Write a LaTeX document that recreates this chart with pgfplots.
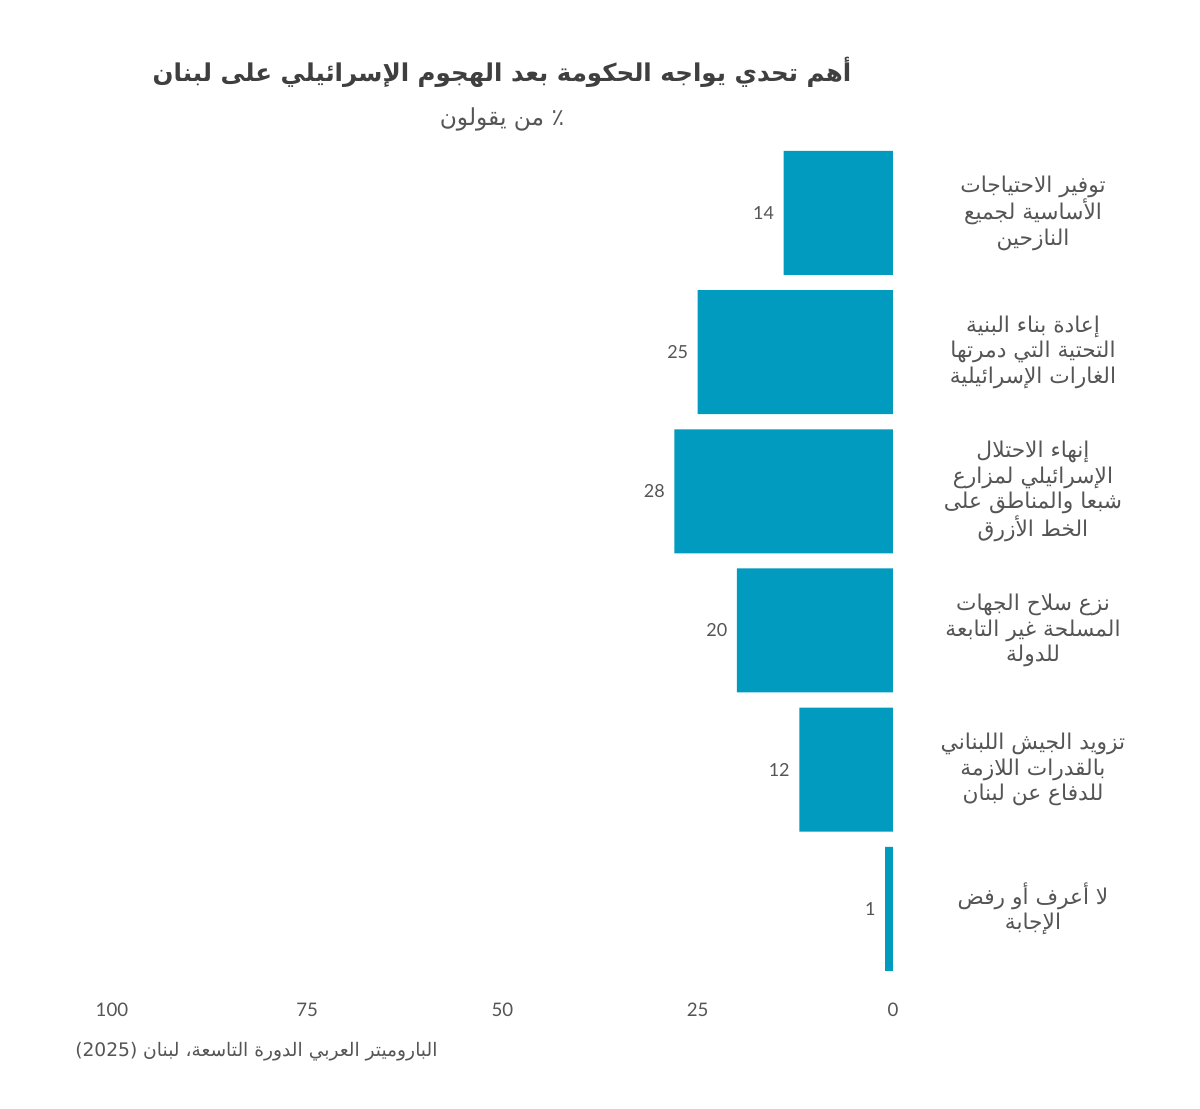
\documentclass[border=0pt]{standalone}
\usepackage{fontspec}
\usepackage{pgfplots}
\pgfplotsset{compat=1.18}
\TeXXeTstate=1
\setmainfont{Lato}
\newfontfamily\arabicfont[Script=Arabic]{DejaVu Sans}
\definecolor{barblue}{HTML}{009BBF}
\definecolor{txt}{HTML}{555555}
\definecolor{ttl}{HTML}{3F3F3F}
\begin{document}
\begin{tikzpicture}[x=1pt,y=1pt]
\useasboundingbox (0,0) rectangle (900,831);
\begin{axis}[at={(84pt,97.2pt)}, anchor=south west, scale only axis,
  width=585.75pt, height=626.25pt,
  xbar, bar width=93pt, x dir=reverse,
  xmin=0, xmax=100, ymin=-0.5, ymax=5.5,
  xtick={0,25,50,75,100}, ytick={0,1,2,3,4,5},
  yticklabels={
    {\beginR لا أعرف أو رفض\endR\\\beginR الإجابة\endR},
    {\beginR تزويد الجيش اللبناني\endR\\\beginR بالقدرات اللازمة\endR\\\beginR للدفاع عن لبنان\endR},
    {\beginR نزع سلاح الجهات\endR\\\beginR المسلحة غير التابعة\endR\\\beginR للدولة\endR},
    {\beginR إنهاء الاحتلال\endR\\\beginR الإسرائيلي لمزارع\endR\\\beginR شبعا والمناطق على\endR\\\beginR الخط الأزرق\endR},
    {\beginR إعادة بناء البنية\endR\\\beginR التحتية التي دمرتها\endR\\\beginR الغارات الإسرائيلية\endR},
    {\beginR توفير الاحتياجات\endR\\\beginR الأساسية لجميع\endR\\\beginR النازحين\endR}},
  axis line style={draw=none}, major tick length=0pt,
  /pgf/number format/assume math mode=true,
  xticklabel style={anchor=center, yshift=-23.7pt, font=\fontsize{14}{16}\selectfont, text=txt},
  yticklabel style={align=center, anchor=center, xshift=690.75pt, font=\arabicfont\fontsize{16.3}{19.1}\selectfont, text=txt},
  nodes near coords,
  nodes near coords style={anchor=east, inner sep=0pt, xshift=-7pt, font=\fontsize{13.5}{15}\selectfont, text=txt},
]
\addplot[fill=barblue, draw=none] coordinates {(1,0) (12,1) (20,2) (28,3) (25,4) (14,5)};
\end{axis}
\node[font=\arabicfont\bfseries\fontsize{18.4}{22}\selectfont, text=ttl] at (376.5,777) {\beginR أهم تحدي يواجه الحكومة بعد الهجوم الإسرائيلي على لبنان\endR};
\node[font=\arabicfont\fontsize{17.5}{20}\selectfont, text=txt] at (376.5,741.75) {\beginR ٪ من يقولون\endR};
\node[font=\arabicfont\fontsize{14}{17}\selectfont, text=txt, anchor=west, inner sep=0pt] at (56.25,42) {\beginR الباروميتر العربي الدورة التاسعة، لبنان \beginL(2025)\endL\endR};
\end{tikzpicture}
\end{document}
